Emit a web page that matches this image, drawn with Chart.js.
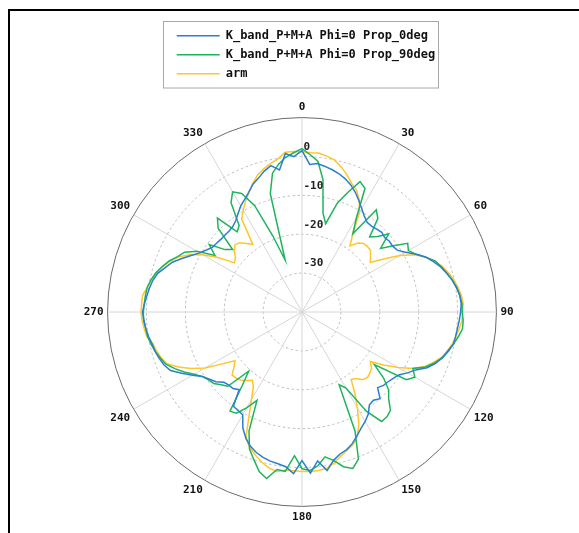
<!DOCTYPE html>
<html>
<head>
<meta charset="utf-8">
<script src="https://cdn.jsdelivr.net/npm/chart.js@4.4.1/dist/chart.umd.min.js"></script>
<style>
html,body{margin:0;padding:0;background:#fff;overflow:hidden;}
#frame{position:absolute;left:8px;top:9px;width:700px;height:700px;border:2px solid #000;box-sizing:border-box;pointer-events:none;}
#wrap{position:absolute;left:0;top:0;width:579px;height:533px;}
</style>
</head>
<body>
<div id="frame"></div>
<div id="wrap"><canvas id="c"></canvas></div>
<script>
// Angle categories (degrees, clockwise from top)
const angles = [0,3,6,9,12,15,18,21,24,27,30,33,36,39,42,45,48,51,54,57,60,63,66,69,72,75,78,81,84,87,90,93,96,99,102,105,108,111,114,117,120,123,126,129,132,135,138,141,144,147,150,153,156,159,162,165,168,171,174,177,180,183,186,189,192,195,198,201,204,207,210,213,216,219,222,225,228,231,234,237,240,243,246,249,252,255,258,261,264,267,270,273,276,279,282,285,288,291,294,297,300,303,306,309,312,315,318,321,324,327,330,333,336,339,342,345,348,351,354,357];

// K_band_P+M+A Phi=0 Prop_0deg (dB)
const prop0 = [
  1.5, -2.0, -1.6, -2.1, -2.6, -3.2, -4.0, -5.0, -6.3, -7.8,
  -9.3, -10.6, -11.5, -11.6, -11.3, -11.0, -11.4, -11.1, -11.2, -10.8,
  -9.3, -7.2, -5.2, -3.8, -2.5, -1.5, -0.5, 0.3, 0.8, 1.0,
  0.8, 0.5, 0.2, 0.0, -0.2, -1.2, -2.0, -3.2, -4.8, -7.2,
  -8.7, -10.3, -11.0, -11.5, -11.8, -12.5, -10.0, -10.8, -10.5, -8.7,
  -7.5, -6.5, -5.2, -3.8, -2.8, -2.2, -1.0, 1.3, -1.5, 1.5,
  -1.8, 1.6, 0.0, -0.5, -0.8, -1.3, -2.0, -3.0, -4.5, -6.5,
  -9.5, -9.8, -10.0, -14.3, -13.5, -13.4, -13.0, -11.5, -10.6, -9.5,
  -7.5, -5.3, -3.0, -2.0, -1.4, -0.9, -0.6, 0.0, 0.4, 0.7,
  1.0, 0.6, 0.1, -0.3, -0.8, -1.6, -3.0, -4.3, -6.2, -8.0,
  -9.6, -10.7, -11.6, -11.8, -12.0, -12.0, -12.0, -11.7, -11.0, -9.8,
  -8.5, -7.5, -6.3, -4.8, -3.8, -2.5, -1.5, -3.0, 1.0, 0.0
];

// K_band_P+M+A Phi=0 Prop_90deg (dB)
const prop90 = [
  2.0, 0.5, -1.0, -5.5, -14.0, -16.5, -10.5, -7.0, -3.3, -4.3,
  -12.0, -16.0, -7.5, -9.0, -14.0, -12.5, -10.0, -14.0, -11.0, -7.6,
  -8.4, -7.2, -5.3, -3.3, -2.3, -1.4, -0.5, 0.2, 0.8, 1.2,
  1.2, 1.5, 1.5, 0.7, -0.2, -1.0, -2.0, -3.5, -5.2, -8.0,
  -6.5, -8.0, -17.0, -13.0, -10.0, -8.5, -6.0, -5.3, -5.2, -9.5,
  -17.5, -19.0, -6.5, 0.5, 2.3, 1.2, -1.0, -2.3, -0.3, 0.8,
  0.3, -3.0, 1.2, 1.0, 3.8, 2.5, 0.0, -2.3, -6.5, -14.5,
  -11.5, -9.0, -8.5, -15.5, -19.5, -13.0, -12.0, -10.8, -10.3, -9.5,
  -8.0, -6.0, -4.2, -2.5, -1.7, -0.9, -0.3, 0.2, 0.4, 0.8,
  0.8, 0.6, 0.5, 0.3, -0.3, -1.1, -2.2, -3.4, -5.0, -6.1,
  -8.8, -13.3, -10.5, -14.5, -16.0, -9.5, -7.5, -13.5, -12.5, -6.5,
  -4.3, -5.8, -10.0, -19.0, -26.0, -8.5, -3.5, -1.5, 0.0, 1.0
];

// arm (dB)
const arm = [
  1.2, 1.0, 1.1, 0.6, 0.0, -1.3, -2.8, -4.5, -5.6, -7.6,
  -10.5, -16.0, -19.0, -17.2, -16.3, -16.2, -16.3, -17.3, -18.3, -15.0,
  -11.0, -7.6, -5.3, -3.6, -2.1, -1.0, -0.1, 0.6, 1.2, 1.5,
  1.3, 1.2, 0.7, 0.1, -0.5, -1.3, -2.3, -3.8, -5.5, -8.0,
  -11.5, -15.0, -18.3, -17.0, -16.5, -16.2, -16.6, -18.0, -18.5, -15.0,
  -11.5, -7.8, -5.0, -3.4, -2.6, -1.6, -0.3, 0.7, 1.0, 1.1,
  1.0, 0.9, 0.9, 1.5, 1.0, 0.0, -1.3, -2.6, -4.5, -10.0,
  -14.0, -17.0, -18.3, -17.3, -16.5, -16.0, -15.8, -17.5, -18.7, -15.5,
  -11.2, -8.0, -5.2, -2.8, -1.9, -1.3, -0.8, 0.4, 0.8, 1.2,
  1.4, 1.3, 1.2, 0.3, -0.4, -1.2, -2.3, -3.6, -5.2, -7.6,
  -10.5, -14.3, -18.5, -18.0, -16.6, -15.6, -16.0, -17.3, -18.5, -11.5,
  -9.8, -8.0, -6.4, -4.6, -3.0, -1.9, -1.0, -0.2, 1.3, 1.3
];

const seriesNames = ['K_band_P+M+A Phi=0 Prop_0deg', 'K_band_P+M+A Phi=0 Prop_90deg', 'arm'];
const seriesColors = ['#2a7fcf', '#1fb45c', '#ffc629'];
const radialTickLabels = [0, -10, -20, -30];
const angleTickLabels = [0, 30, 60, 90, 120, 150, 180, 210, 240, 270, 300, 330];

const MONO = '"DejaVu Sans Mono", monospace';

const legendBoxPlugin = {
  id: 'legendBox',
  beforeDraw(chart) {
    const lg = chart.legend;
    if (lg) {
      lg.left = 169.7; lg.top = 22.7; lg.width = 300; lg.height = 66;
      lg.right = lg.left + lg.width; lg.bottom = lg.top + lg.height;
    }
    const ctx = chart.ctx;
    ctx.save();
    ctx.fillStyle = '#ffffff';
    ctx.strokeStyle = '#a8a8a8';
    ctx.lineWidth = 1;
    ctx.fillRect(163.5, 21.5, 275, 66.5);
    ctx.strokeRect(163.5, 21.5, 275, 66.5);
    ctx.restore();
  }
};

const radialLabelPlugin = {
  id: 'radialLabels',
  afterDatasetsDraw(chart) {
    const s = chart.scales.r;
    const ctx = chart.ctx;
    ctx.save();
    ctx.font = 'bold 11px ' + MONO;
    ctx.fillStyle = '#222';
    ctx.textAlign = 'left';
    ctx.textBaseline = 'middle';
    radialTickLabels.forEach(v => {
      const d = s.getDistanceFromCenterForValue(v);
      ctx.fillText(String(v), s.xCenter + 1.5, s.yCenter - d - 9.5);
    });
    ctx.restore();
  }
};

const seriesData = [prop0, prop90, arm];

new Chart(document.getElementById('c'), {
  type: 'radar',
  data: {
    labels: angles,
    datasets: seriesData.map((d, i) => ({
      label: seriesNames[i],
      data: d,
      borderColor: seriesColors[i],
      backgroundColor: 'rgba(0,0,0,0)',
      borderWidth: 1.5,
      fill: false,
      pointRadius: 0,
      pointHoverRadius: 0,
      tension: 0
    }))
  },
  options: {
    responsive: true,
    maintainAspectRatio: false,
    animation: false,
    devicePixelRatio: 1,
    events: [],
    layout: { padding: { left: 80.7, right: 61.1, top: 100, bottom: 8 } },
    plugins: {
      legend: {
        position: 'top',
        align: 'start',
        maxHeight: 1,
        labels: {
          usePointStyle: true,
          pointStyle: 'line',
          pointStyleWidth: 43,
          padding: 7,
          color: '#111',
          font: { family: MONO, size: 12, weight: 'bold' }
        }
      },
      tooltip: { enabled: false }
    },
    scales: {
      r: {
        min: -40,
        max: 10,
        startAngle: 0,
        ticks: { display: false, stepSize: 10 },
        grid: {
          circular: true,
          color: (ctx) => ctx.tick && ctx.tick.value === 10 ? '#6a6a6a' : (ctx.tick && ctx.tick.value === -40 ? 'rgba(0,0,0,0)' : '#bdbdbd'),
          lineWidth: 1
        },
        border: {
          dash: (ctx) => (ctx.tick && ctx.tick.value === 10) ? [] : [2.5, 2.5]
        },
        angleLines: {
          color: '#d6d6d6',
          lineWidth: (ctx) => angleTickLabels.includes(angles[ctx.index]) ? 1 : 0
        },
        pointLabels: {
          padding: 4,
          color: '#111',
          font: { family: MONO, size: 11, weight: 'bold' },
          callback: (label) => angleTickLabels.includes(label) ? String(label) : ''
        }
      }
    }
  },
  plugins: [legendBoxPlugin, radialLabelPlugin]
});
</script>
</body>
</html>
